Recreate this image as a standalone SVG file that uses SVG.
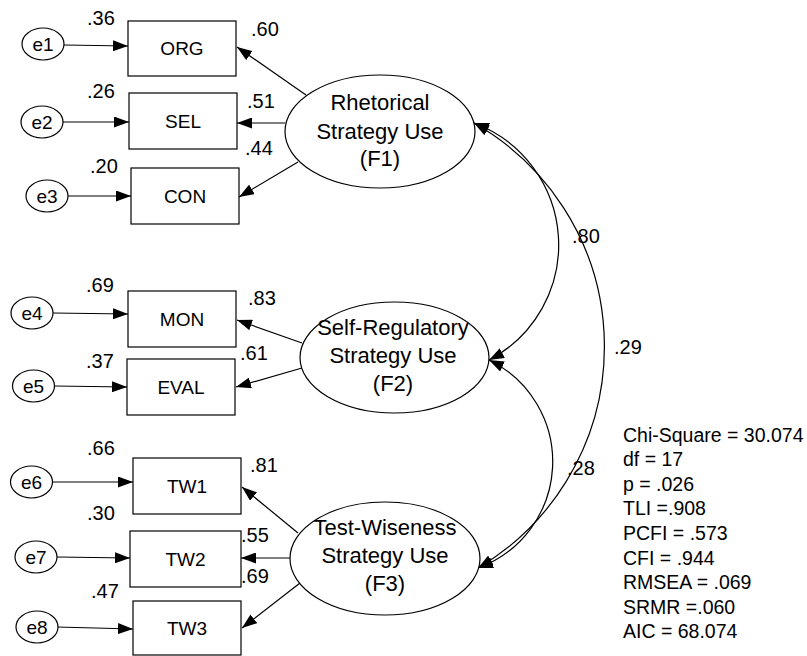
<svg xmlns="http://www.w3.org/2000/svg" width="807" height="656" viewBox="0 0 807 656">
<defs>
<marker id="ah" viewBox="0 0 15 11" markerWidth="15" markerHeight="11" refX="15" refY="5.5" orient="auto-start-reverse" markerUnits="userSpaceOnUse">
<path d="M0,0 L15,5.5 L0,11 z" fill="#000"/>
</marker>
</defs>
<style>
text{font-family:"Liberation Sans",Arial,sans-serif;fill:#000}
.box{fill:#fff;stroke:#000;stroke-width:1.2}
.ell{fill:#fff;stroke:#000;stroke-width:1.2}
.lbl{font-size:20px}
.bt{font-size:19px;text-anchor:middle}
.et{font-size:19px;text-anchor:middle}
.ft{font-size:22px;text-anchor:middle}
.st{font-size:19.5px}
.ln{stroke:#000;stroke-width:1.2;fill:none;marker-end:url(#ah)}
.cv{stroke:#000;stroke-width:1.2;fill:none;marker-start:url(#ah);marker-end:url(#ah)}
</style>
<rect width="807" height="656" fill="#fff"/>

<g id="connectors">
<line class="ln" x1="64" y1="45" x2="128" y2="46"/>
<line class="ln" x1="63" y1="122" x2="129" y2="122"/>
<line class="ln" x1="68" y1="196" x2="131" y2="196"/>
<line class="ln" x1="53" y1="313" x2="128" y2="314"/>
<line class="ln" x1="54" y1="386" x2="127" y2="387"/>
<line class="ln" x1="53" y1="482" x2="133" y2="482"/>
<line class="ln" x1="57" y1="557" x2="130" y2="558"/>
<line class="ln" x1="57" y1="627" x2="133" y2="629"/>
<line class="ln" x1="306" y1="95" x2="237" y2="47"/>
<line class="ln" x1="285" y1="123" x2="237" y2="123"/>
<line class="ln" x1="298" y1="162" x2="239" y2="197"/>
<line class="ln" x1="302" y1="343" x2="237" y2="320"/>
<line class="ln" x1="302" y1="368" x2="236" y2="387"/>
<line class="ln" x1="298" y1="533" x2="242" y2="487"/>
<line class="ln" x1="290" y1="558" x2="241" y2="558"/>
<line class="ln" x1="300" y1="583" x2="242" y2="628"/>
<path class="cv" d="M474,123 A130,130 0 0 1 489,360"/>
<path class="cv" d="M474,123 A257,257 0 0 1 478,568"/>
<path class="cv" d="M489,360 A113,113 0 0 1 478,568"/>
</g>

<g id="e1"><ellipse class="ell" cx="43" cy="44" rx="21" ry="16"/><text class="et" x="43" y="51">e1</text></g>
<g id="e2"><ellipse class="ell" cx="42" cy="122" rx="21" ry="16"/><text class="et" x="42" y="129">e2</text></g>
<g id="e3"><ellipse class="ell" cx="47" cy="196" rx="21" ry="16"/><text class="et" x="47" y="203">e3</text></g>
<g id="e4"><ellipse class="ell" cx="32" cy="313" rx="21" ry="16"/><text class="et" x="32" y="320">e4</text></g>
<g id="e5"><ellipse class="ell" cx="33.5" cy="386" rx="21" ry="16"/><text class="et" x="33.5" y="393">e5</text></g>
<g id="e6"><ellipse class="ell" cx="31.5" cy="482" rx="21" ry="16"/><text class="et" x="31.5" y="489">e6</text></g>
<g id="e7"><ellipse class="ell" cx="36" cy="557" rx="21" ry="16"/><text class="et" x="36" y="564">e7</text></g>
<g id="e8"><ellipse class="ell" cx="37" cy="627" rx="21" ry="16"/><text class="et" x="37" y="634">e8</text></g>

<g id="ORG"><rect class="box" x="128" y="21" width="108" height="55"/><text class="bt" x="182" y="55">ORG</text></g>
<g id="SEL"><rect class="box" x="129" y="93" width="108" height="56"/><text class="bt" x="183" y="128">SEL</text></g>
<g id="CON"><rect class="box" x="131" y="168" width="108" height="56"/><text class="bt" x="185" y="203">CON</text></g>
<g id="MON"><rect class="box" x="128" y="291" width="108" height="56"/><text class="bt" x="182" y="326">MON</text></g>
<g id="EVAL"><rect class="box" x="127" y="359" width="108" height="56"/><text class="bt" x="181" y="394">EVAL</text></g>
<g id="TW1"><rect class="box" x="133" y="458" width="108" height="56"/><text class="bt" x="187" y="493">TW1</text></g>
<g id="TW2"><rect class="box" x="130" y="531" width="111" height="56"/><text class="bt" x="185.5" y="566">TW2</text></g>
<g id="TW3"><rect class="box" x="133" y="601" width="108" height="54"/><text class="bt" x="187" y="635">TW3</text></g>

<g id="F1"><ellipse class="ell" cx="380" cy="131.5" rx="95" ry="56.5"/>
<text class="ft" x="380" y="110">Rhetorical</text><text class="ft" x="380" y="138.5">Strategy Use</text><text class="ft" x="380" y="166">(F1)</text></g>
<g id="F2"><ellipse class="ell" cx="394.5" cy="357.5" rx="94.5" ry="55.5"/>
<text class="ft" x="393" y="335">Self-Regulatory</text><text class="ft" x="393" y="363">Strategy Use</text><text class="ft" x="393" y="391">(F2)</text></g>
<g id="F3"><ellipse class="ell" cx="385" cy="558.5" rx="95" ry="56.5"/>
<text class="ft" x="385" y="535">Test-Wiseness</text><text class="ft" x="385" y="563">Strategy Use</text><text class="ft" x="385" y="591">(F3)</text></g>

<g id="labels" class="lbl">
<text x="87" y="25">.36</text>
<text x="87" y="98">.26</text>
<text x="90" y="173">.20</text>
<text x="251" y="36">.60</text>
<text x="247" y="108">.51</text>
<text x="245" y="155">.44</text>
<text x="86" y="292">.69</text>
<text x="248" y="305">.83</text>
<text x="86" y="368">.37</text>
<text x="240" y="360">.61</text>
<text x="87" y="455">.66</text>
<text x="250" y="472">.81</text>
<text x="87" y="520">.30</text>
<text x="241" y="542">.55</text>
<text x="241" y="583">.69</text>
<text x="91" y="598">.47</text>
<text x="572" y="243">.80</text>
<text x="567" y="475">.28</text>
<text x="614" y="354">.29</text>
</g>

<g id="fit" class="st">
<text x="623" y="441.5">Chi-Square = 30.074</text>
<text x="623" y="466">df = 17</text>
<text x="623" y="490.7">p = .026</text>
<text x="623" y="515.3">TLI =.908</text>
<text x="623" y="539.9">PCFI = .573</text>
<text x="623" y="564.5">CFI = .944</text>
<text x="623" y="589.1">RMSEA = .069</text>
<text x="623" y="613.7">SRMR =.060</text>
<text x="623" y="638.3">AIC = 68.074</text>
</g>
</svg>
